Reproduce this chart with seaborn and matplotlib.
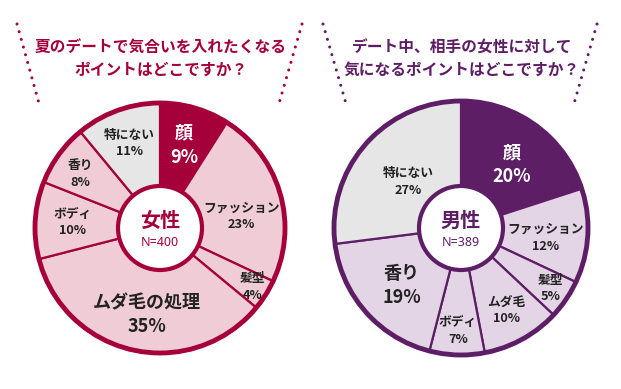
import numpy as np
import matplotlib.pyplot as plt
import matplotlib.patches as mpatches
import seaborn as sns

# data
categories = ['顔', 'ファッション', '髪型', 'ムダ毛', 'ボディ', '香り', '特にない']
women_vals = [9, 23, 4, 35, 10, 8, 11]
men_vals = [20, 12, 5, 10, 7, 19, 27]
women_names = ['顔', 'ファッション', '髪型', 'ムダ毛の処理', 'ボディ', '香り', '特にない']
men_names = ['顔', 'ファッション', '髪型', 'ムダ毛', 'ボディ', '香り', '特にない']
women_title = '夏のデートで気合いを入れたくなる\nポイントはどこですか？'
men_title = 'デート中、相手の女性に対して\n気になるポイントはどこですか？'
women_center = ('女性', 'N=400')
men_center = ('男性', 'N=389')

sns.set_theme(style='white')
plt.rcParams['font.family'] = ['Noto Sans CJK JP', 'DejaVu Sans']

W, H = 621, 389
fig = plt.figure(figsize=(W / 100, H / 100), dpi=100)
ax = fig.add_axes([0, 0, 1, 1])

gray = '#E6E6E6'

panels = [
    dict(vals=women_vals, names=women_names, title=women_title, center=women_center,
         dark='#A5003A', light='#EFCCD6', cx=160, cy=H - 228, R=125,
         big=[True, False, False, True, False, False, False],
         rf=[0.69, 0.66, 0.88, 0.70, 0.70, 0.77, 0.72],
         dt=[0, -8, 0, 4, 0, 2, 0],
         dots=[(17, 24, 40, 107), (302, 24, 278, 107)]),
    dict(vals=men_vals, names=men_names, title=men_title, center=men_center,
         dark='#5E1E66', light='#E3D4E6', cx=461, cy=H - 228, R=127,
         big=[True, False, False, False, False, True, False],
         rf=[0.64, 0.67, 0.85, 0.74, 0.81, 0.65, 0.55],
         dt=[-3, -3, 0, 0, 0, 3, 0],
         dots=[(323, 24, 347, 107), (597, 24, 573, 107)]),
]

for p in panels:
    cols = [p['dark']] + [p['light']] * 5 + [gray]
    wedges, _ = ax.pie(p['vals'], colors=cols, startangle=90, counterclock=False,
                       center=(p['cx'], p['cy']), radius=p['R'],
                       wedgeprops=dict(edgecolor=p['dark'], linewidth=1.6))
    # outer ring
    ax.add_patch(mpatches.Circle((p['cx'], p['cy']), p['R'], fill=False,
                                 edgecolor=p['dark'], linewidth=3.5, zorder=3))
    # center disc
    ax.add_patch(mpatches.Circle((p['cx'], p['cy']), 42, facecolor='white',
                                 edgecolor=p['dark'], linewidth=3, zorder=4))
    ax.text(p['cx'], p['cy'] + 8, p['center'][0], ha='center', va='center',
            fontsize=14.5, fontweight='bold', color=p['dark'], zorder=5)
    ax.text(p['cx'], p['cy'] - 14, p['center'][1], ha='center', va='center',
            fontsize=9, color=p['dark'], family=['Noto Sans', 'DejaVu Sans'], zorder=5)

    # labels
    for i, w in enumerate(wedges):
        mid = np.deg2rad((w.theta1 + w.theta2) / 2 + p['dt'][i])
        r = p['rf'][i] * p['R']
        x = p['cx'] + r * np.cos(mid)
        y = p['cy'] + r * np.sin(mid)
        txt = f"{p['names'][i]}\n{p['vals'][i]}%"
        fs = 13 if p['big'][i] else 9.2
        col = 'white' if i == 0 else '#222222'
        ax.text(x, y, txt, ha='center', va='center', fontsize=fs,
                fontweight='bold', color=col, linespacing=1.35, zorder=5)

    # title
    ax.text(p['cx'] + 1, H - 59, p['title'], ha='center', va='center', fontsize=11.3,
            fontweight='bold', color=p['dark'], linespacing=1.5)

    # dotted brackets
    for x0, y0, x1, y1 in p['dots']:
        ax.plot([x0, x1], [H - y0, H - y1], color=p['dark'], linewidth=2.2,
                linestyle=(0, (0.01, 2.6)), dash_capstyle='round')

ax.set_xlim(0, W)
ax.set_ylim(0, H)
ax.set_aspect('equal')
ax.set_position([0, 0, 1, 1])
ax.axis('off')

fig.savefig('out.png', dpi=100, facecolor='white')
